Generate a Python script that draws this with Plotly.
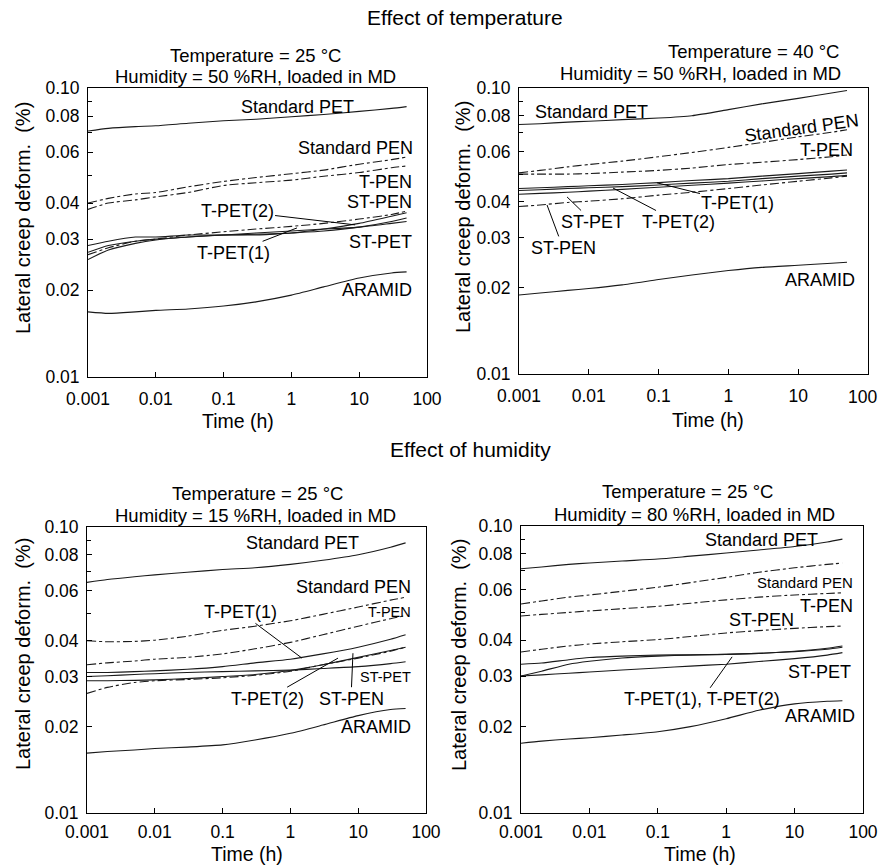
import math
import plotly.graph_objects as go

W, H = 880, 867
FONT = "Liberation Sans, Arial, sans-serif"

# ---------------- data ----------------
TIME = [0.001, 0.002, 0.005, 0.01, 0.03, 0.1, 0.3, 1, 3, 10, 30, 50]
SERIES = ["Standard PET", "Standard PEN", "T-PEN", "ST-PEN", "T-PET(1)", "T-PET(2)", "ST-PET", "ARAMID"]
DASH = {"Standard PET": "solid", "Standard PEN": "dashdot", "T-PEN": "dashdot", "ST-PEN": "dashdot",
        "T-PET(1)": "solid", "T-PET(2)": "solid", "ST-PET": "solid", "ARAMID": "solid"}

# Panel A: 25 C, 50 %RH
a_std_pet = [0.0710, 0.0725, 0.0735, 0.0740, 0.0755, 0.0770, 0.0780, 0.0795, 0.0810, 0.0830, 0.0850, 0.0862]
a_std_pen = [0.0400, 0.0415, 0.0430, 0.0435, 0.0455, 0.0475, 0.0490, 0.0505, 0.0520, 0.0545, 0.0565, 0.0577]
a_t_pen = [0.0380, 0.0400, 0.0410, 0.0420, 0.0435, 0.0460, 0.0470, 0.0480, 0.0495, 0.0510, 0.0530, 0.0537]
a_st_pen = [0.0265, 0.0280, 0.0295, 0.0300, 0.0310, 0.0318, 0.0325, 0.0332, 0.0340, 0.0352, 0.0365, 0.0375]
a_t_pet1 = [0.0255, 0.0275, 0.0290, 0.0298, 0.0305, 0.0310, 0.0310, 0.0315, 0.0320, 0.0330, 0.0345, 0.0355]
a_t_pet2 = [0.0285, 0.0295, 0.0305, 0.0305, 0.0310, 0.0310, 0.0312, 0.0315, 0.0325, 0.0340, 0.0360, 0.0370]
a_st_pet = [0.0270, 0.0285, 0.0295, 0.0300, 0.0305, 0.0310, 0.0315, 0.0320, 0.0325, 0.0330, 0.0340, 0.0345]
a_aramid = [0.0168, 0.0166, 0.0168, 0.0170, 0.0172, 0.0176, 0.0182, 0.0192, 0.0205, 0.0220, 0.0229, 0.0231]

# Panel B: 40 C, 50 %RH
b_std_pet = [0.0745, 0.0750, 0.0760, 0.0765, 0.0775, 0.0785, 0.0800, 0.0840, 0.0880, 0.0920, 0.0960, 0.0980]
b_std_pen = [0.0505, 0.0515, 0.0530, 0.0540, 0.0555, 0.0575, 0.0595, 0.0620, 0.0645, 0.0675, 0.0700, 0.0715]
b_t_pen = [0.0500, 0.0500, 0.0500, 0.0502, 0.0508, 0.0515, 0.0525, 0.0540, 0.0550, 0.0562, 0.0575, 0.0583]
b_st_pen = [0.0385, 0.0390, 0.0398, 0.0402, 0.0410, 0.0422, 0.0432, 0.0445, 0.0458, 0.0472, 0.0485, 0.0492]
b_t_pet1 = [0.0445, 0.0448, 0.0452, 0.0455, 0.0460, 0.0467, 0.0475, 0.0482, 0.0492, 0.0502, 0.0512, 0.0517]
b_t_pet2 = [0.0438, 0.0441, 0.0445, 0.0448, 0.0452, 0.0458, 0.0465, 0.0472, 0.0482, 0.0492, 0.0500, 0.0505]
b_st_pet = [0.0425, 0.0428, 0.0432, 0.0436, 0.0442, 0.0450, 0.0457, 0.0465, 0.0473, 0.0482, 0.0490, 0.0495]
b_aramid = [0.0189, 0.0192, 0.0196, 0.0199, 0.0205, 0.0214, 0.0222, 0.0230, 0.0236, 0.0240, 0.0244, 0.0246]

# Panel C: 25 C, 15 %RH
c_std_pet = [0.0640, 0.0655, 0.0670, 0.0680, 0.0695, 0.0710, 0.0720, 0.0740, 0.0765, 0.0800, 0.0850, 0.0880]
c_std_pen = [0.0400, 0.0397, 0.0398, 0.0402, 0.0415, 0.0435, 0.0450, 0.0470, 0.0495, 0.0525, 0.0555, 0.0568]
c_t_pen = [0.0330, 0.0335, 0.0340, 0.0345, 0.0350, 0.0360, 0.0375, 0.0395, 0.0420, 0.0450, 0.0478, 0.0490]
c_st_pen = [0.0262, 0.0275, 0.0286, 0.0290, 0.0293, 0.0297, 0.0303, 0.0313, 0.0330, 0.0348, 0.0368, 0.0380]
c_t_pet1 = [0.0310, 0.0310, 0.0312, 0.0314, 0.0318, 0.0325, 0.0335, 0.0345, 0.0360, 0.0380, 0.0405, 0.0420]
c_t_pet2 = [0.0290, 0.0290, 0.0291, 0.0292, 0.0295, 0.0300, 0.0305, 0.0315, 0.0330, 0.0350, 0.0370, 0.0380]
c_st_pet = [0.0300, 0.0302, 0.0305, 0.0307, 0.0310, 0.0312, 0.0314, 0.0316, 0.0320, 0.0325, 0.0333, 0.0338]
c_aramid = [0.0162, 0.0164, 0.0166, 0.0168, 0.0170, 0.0173, 0.0180, 0.0190, 0.0203, 0.0219, 0.0230, 0.0232]

# Panel D: 25 C, 80 %RH
d_std_pet = [0.0710, 0.0720, 0.0735, 0.0743, 0.0755, 0.0767, 0.0785, 0.0805, 0.0825, 0.0848, 0.0880, 0.0900]
d_std_pen = [0.0535, 0.0548, 0.0565, 0.0575, 0.0592, 0.0612, 0.0635, 0.0662, 0.0690, 0.0715, 0.0735, 0.0743]
d_t_pen = [0.0486, 0.0492, 0.0500, 0.0506, 0.0515, 0.0525, 0.0538, 0.0553, 0.0565, 0.0575, 0.0582, 0.0585]
d_st_pen = [0.0364, 0.0372, 0.0382, 0.0388, 0.0395, 0.0402, 0.0412, 0.0424, 0.0432, 0.0440, 0.0446, 0.0448]
d_t_pet1 = [0.0330, 0.0333, 0.0342, 0.0348, 0.0352, 0.0355, 0.0356, 0.0357, 0.0360, 0.0365, 0.0372, 0.0378]
d_t_pet2 = [0.0300, 0.0312, 0.0330, 0.0338, 0.0347, 0.0352, 0.0355, 0.0357, 0.0360, 0.0366, 0.0375, 0.0382]
d_st_pet = [0.0300, 0.0303, 0.0307, 0.0310, 0.0315, 0.0320, 0.0325, 0.0330, 0.0337, 0.0345, 0.0355, 0.0362]
d_aramid = [0.0175, 0.0178, 0.0181, 0.0183, 0.0187, 0.0192, 0.0200, 0.0213, 0.0228, 0.0240, 0.0245, 0.0246]

X_TICKS = [0.001, 0.01, 0.1, 1, 10, 100]
X_TICKTEXT = ["0.001", "0.01", "0.1", "1", "10", "100"]
Y_TICKS = [0.01, 0.02, 0.03, 0.04, 0.06, 0.08, 0.10]
Y_TICKTEXT = ["0.01", "0.02", "0.03", "0.04", "0.06", "0.08", "0.10"]
Y_MINOR = [0.05, 0.07, 0.09]

PANEL_DATA = [
    [a_std_pet, a_std_pen, a_t_pen, a_st_pen, a_t_pet1, a_t_pet2, a_st_pet, a_aramid],
    [b_std_pet, b_std_pen, b_t_pen, b_st_pen, b_t_pet1, b_t_pet2, b_st_pet, b_aramid],
    [c_std_pet, c_std_pen, c_t_pen, c_st_pen, c_t_pet1, c_t_pet2, c_st_pet, c_aramid],
    [d_std_pet, d_std_pen, d_t_pen, d_st_pen, d_t_pet1, d_t_pet2, d_st_pet, d_aramid],
]
SUB_T = ["Temperature = 25 \u00b0C", "Temperature = 40 \u00b0C", "Temperature = 25 \u00b0C", "Temperature = 25 \u00b0C"]
SUB_H = ["Humidity = 50 %RH, loaded in MD", "Humidity = 50 %RH, loaded in MD",
         "Humidity = 15 %RH, loaded in MD", "Humidity = 80 %RH, loaded in MD"]

# ---------------- layout geometry (pixels) ----------------
# plot boxes: left, right, top, bottom
BOX = [(88, 427, 88, 377), (519, 868, 88, 374), (87, 426, 527, 813), (521, 863, 526, 813)]
XTICK_STANDOFF = [6, 6, 3, 3]
SUB_T_POS = [(255, 56), (753, 52), (257, 493), (687, 491)]
SUB_H_POS = [(255, 77), (700, 73), (255, 515), (694, 514)]
XT_POS = [(238, 421), (708, 420), (247, 854), (700, 854)]
YT_POS = [(23, 218), (463, 217), (23, 654), (459, 655)]
EDGE_TICK_POS = (878, 397)  # panel B "100" label sits flush with the page edge

# label placements (data coords): text, time, deform, xanchor, size, angle
LABELS = [
    [("Standard PET", 1.21, 0.086, "center", 18, 0), ("Standard PEN", 66.5, 0.062, "right", 18, 0),
     ("T-PEN", 64, 0.0473, "right", 18, 0), ("ST-PEN", 64, 0.0404, "right", 18, 0),
     ("ST-PET", 64, 0.0293, "right", 18, 0), ("ARAMID", 64, 0.0200, "right", 18, 0)],
    [("Standard PET", 0.0108, 0.0824, "center", 18, 0), ("Standard PEN", 11.3, 0.0725, "center", 18, -8),
     ("T-PEN", 65.2, 0.0607, "right", 18, 0), ("ARAMID", 69.5, 0.0213, "right", 18, 0)],
    [("Standard PET", 1.53, 0.0879, "center", 18, 0), ("Standard PEN", 64.3, 0.0617, "right", 18, 0),
     ("T-PEN", 64.3, 0.0505, "right", 14.5, 0), ("ST-PET", 64.3, 0.0299, "right", 14.5, 0),
     ("ARAMID", 64.3, 0.0200, "right", 18, 0)],
    [("Standard PET", 3.33, 0.0893, "center", 18, 0), ("Standard PEN", 76.4, 0.0638, "right", 15, 0),
     ("T-PEN", 76.4, 0.0526, "right", 18, 0), ("ST-PEN", 3.33, 0.047, "center", 18, 0),
     ("ST-PET", 71.5, 0.031, "right", 18, 0), ("ARAMID", 81.7, 0.0218, "right", 18, 0)],
]
# leader labels: text, text time, text deform, target time, target deform
LEADERS = [
    [("T-PET(2)", 0.158, 0.0375, 8.7, 0.0336), ("T-PET(1)", 0.138, 0.0269, 1.21, 0.0328)],
    [("T-PET(1)", 1.37, 0.0396, 0.095, 0.0466), ("ST-PET", 0.01148, 0.0340, 0.00488, 0.0416),
     ("T-PET(2)", 0.19, 0.0340, 0.0222, 0.0447), ("ST-PEN", 0.00427, 0.0276, 0.00252, 0.0390)],
    [("T-PET(1)", 0.181, 0.0505, 1.48, 0.0348), ("T-PET(2)", 0.452, 0.0251, 5.04, 0.0348),
     ("ST-PEN", 7.83, 0.0251, 8.37, 0.0362)],
    [("T-PET(1), T-PET(2)", 0.443, 0.0249, 1.22, 0.0350)],
]


def px(x):
    return x / W


def py(y):
    return 1 - y / H


fig = go.Figure()
annotations = []
lg = math.log10

for i in range(4):
    n = "" if i == 0 else str(i + 1)
    xa, ya = "x" + n, "y" + n
    for name, vals in zip(SERIES, PANEL_DATA[i]):
        fig.add_trace(go.Scatter(
            x=TIME, y=vals, mode="lines", name=name, showlegend=False,
            line=dict(color="#1a1a1a", width=1.1, dash=DASH[name], shape="spline", smoothing=0.6),
            xaxis=xa, yaxis=ya, hoverinfo="skip"))
    l, r, t, b = BOX[i]
    axcommon = dict(type="log", showline=True, linecolor="black", linewidth=1, mirror=True,
                    ticks="inside", ticklen=5, tickcolor="black", showgrid=False, zeroline=False,
                    automargin=False,
                    tickfont=dict(family=FONT, size=17.5, color="black"))
    ticktext = list(X_TICKTEXT)
    if i == 1:
        ticktext[-1] = ""  # drawn as an edge annotation below
    fig.update_layout(**{
        "xaxis" + n: dict(axcommon, domain=[px(l), px(r)], range=[-3, 2], tickvals=X_TICKS,
                          ticktext=ticktext, anchor=ya,
                          ticklabelstandoff=XTICK_STANDOFF[i], ticklabeloverflow="allow"),
        "yaxis" + n: dict(axcommon, domain=[py(b), py(t)], range=[-2, -1], tickvals=Y_TICKS,
                          ticktext=Y_TICKTEXT, anchor=xa, ticklabelstandoff=4,
                          ticklabeloverflow="allow",
                          minor=dict(tickvals=Y_MINOR, ticks="inside", ticklen=4, tickcolor="black")),
    })
    # subplot titles
    for txt, pos in ((SUB_T[i], SUB_T_POS[i]), (SUB_H[i], SUB_H_POS[i])):
        annotations.append(dict(text=txt, x=px(pos[0]), y=py(pos[1]), xref="paper", yref="paper",
                                showarrow=False, xanchor="center", yanchor="middle",
                                font=dict(family=FONT, size=18.5, color="black")))
    annotations.append(dict(text="Time (h)", x=px(XT_POS[i][0]), y=py(XT_POS[i][1]), xref="paper",
                            yref="paper", showarrow=False, xanchor="center", yanchor="middle",
                            font=dict(family=FONT, size=19.5, color="black")))
    annotations.append(dict(text="Lateral creep deform.  (%)", x=px(YT_POS[i][0]), y=py(YT_POS[i][1]),
                            xref="paper", yref="paper", showarrow=False, textangle=-90,
                            xanchor="center", yanchor="middle",
                            font=dict(family=FONT, size=20, color="black")))
    for txt, tx, ty, anc, size, ang in LABELS[i]:
        annotations.append(dict(text=txt, x=lg(tx), y=lg(ty), xref=xa, yref=ya, showarrow=False,
                                xanchor=anc, yanchor="middle", textangle=ang,
                                font=dict(family=FONT, size=size, color="black")))
    for txt, tx, ty, gx, gy in LEADERS[i]:
        annotations.append(dict(text=txt, x=lg(gx), y=lg(gy), ax=lg(tx), ay=lg(ty), xref=xa, yref=ya,
                                axref=xa, ayref=ya, showarrow=True, arrowhead=0, arrowwidth=1,
                                arrowcolor="black", xanchor="center", yanchor="middle",
                                font=dict(family=FONT, size=18, color="black")))

annotations.append(dict(text=X_TICKTEXT[-1], x=px(EDGE_TICK_POS[0]), y=py(EDGE_TICK_POS[1]),
                        xref="paper", yref="paper", showarrow=False, xanchor="right", yanchor="middle",
                        borderpad=0, font=dict(family=FONT, size=17.5, color="black")))
annotations.append(dict(text="Effect of temperature", x=px(465), y=py(17), xref="paper", yref="paper",
                        showarrow=False, xanchor="center", yanchor="middle",
                        font=dict(family=FONT, size=21, color="black")))
annotations.append(dict(text="Effect of humidity", x=px(470), y=py(450), xref="paper", yref="paper",
                        showarrow=False, xanchor="center", yanchor="middle",
                        font=dict(family=FONT, size=21, color="black")))

fig.update_layout(width=W, height=H, margin=dict(l=0, r=0, t=0, b=0, autoexpand=False),
                  paper_bgcolor="white", plot_bgcolor="white", annotations=annotations,
                  font=dict(family=FONT, color="black"))

fig.write_html("out.html")
